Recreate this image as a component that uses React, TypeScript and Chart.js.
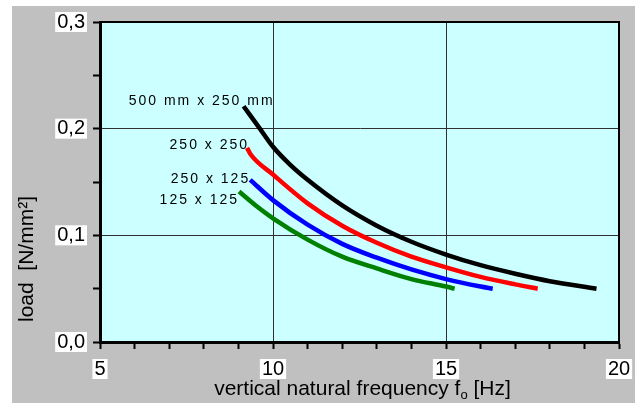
import React, { useEffect, useRef } from 'react';
import { Chart, registerables } from 'chart.js';

Chart.register(...registerables);

// ---- data ----
const seriesNames = ['500 mm x 250 mm', '250 x 250', '250 x 125', '125 x 125'];

const freq500x250 = [9.15, 9.6, 10.0, 10.5, 11.0, 12.0, 13.0, 14.0, 15.0, 16.0, 17.0, 18.0, 19.35];
const load500x250 = [0.221, 0.201, 0.183, 0.166, 0.152, 0.128, 0.109, 0.094, 0.082, 0.072, 0.064, 0.057, 0.05];

const freq250x250 = [9.25, 9.35, 10.0, 11.0, 12.0, 13.0, 14.0, 15.0, 16.0, 17.0, 17.65];
const load250x250 = [0.182, 0.176, 0.157, 0.13, 0.109, 0.093, 0.08, 0.07, 0.061, 0.054, 0.05];

const freq250x125 = [9.34, 10.0, 11.0, 12.0, 13.0, 14.0, 15.0, 16.0, 16.35];
const load250x125 = [0.152, 0.133, 0.11, 0.092, 0.079, 0.068, 0.059, 0.052, 0.05];

const freq125x125 = [9.02, 9.5, 10.0, 11.0, 12.0, 13.0, 14.0, 15.0, 15.25];
const load125x125 = [0.141, 0.128, 0.116, 0.096, 0.08, 0.069, 0.059, 0.052, 0.05];

const xMin = 5;
const xMax = 20;
const xMinorStep = 1;
const xMajorStep = 5;
const yMin = 0;
const yMax = 0.3;
const yMinorStep = 0.05;
const yMajorStep = 0.1;

const xTitleMain = 'vertical natural frequency f';
const xTitleSub = 'o';
const xTitleEnd = ' [Hz]';
const yTitle = 'load  [N/mm²]';

// ---- styles ----
const FONT = "'Liberation Sans', Arial, Helvetica, sans-serif";
const seriesColors = ['#000000', '#ff0000', '#0000ff', '#008000'];
// label offsets relative to the first point of each curve (pixels)
const labelOffsets = [
  { dx: 31, dy: -1 },
  { dx: 2, dy: 1 },
  { dx: 0, dy: 3 },
  { dx: 0, dy: 12 },
];

const isMultiple = (v: number, step: number) => Math.abs(v / step - Math.round(v / step)) < 1e-6;

export default function App() {
  const ref = useRef<HTMLCanvasElement | null>(null);

  useEffect(() => {
    document.body.style.margin = '0';
    const canvas = ref.current;
    if (!canvas) return;

    const pairs = [
      [freq500x250, load500x250],
      [freq250x250, load250x250],
      [freq250x125, load250x125],
      [freq125x125, load125x125],
    ];

    const datasets = pairs.map(([xs, ys], i) => ({
      label: seriesNames[i],
      data: xs.map((x, j) => ({ x, y: ys[j] })),
      showLine: true,
      borderColor: seriesColors[i],
      backgroundColor: seriesColors[i],
      borderWidth: 4.5,
      borderCapStyle: 'butt' as const,
      pointRadius: 0,
      cubicInterpolationMode: 'monotone' as const,
    }));

    const decor = {
      id: 'decor',
      beforeDraw(chart: any) {
        const { ctx, chartArea: a } = chart;
        ctx.save();
        ctx.fillStyle = '#ffffff';
        ctx.fillRect(0, 0, chart.width, chart.height);
        ctx.fillStyle = '#c0c0c0';
        ctx.fillRect(12, 6, 623, chart.height - 6);
        ctx.fillStyle = '#ccffff';
        ctx.fillRect(a.left, a.top, a.right - a.left, a.bottom - a.top);
        ctx.restore();
      },
      beforeDatasetsDraw(chart: any) {
        const { ctx } = chart;
        ctx.save();
        ctx.font = `14px ${FONT}`;
        (ctx as any).letterSpacing = '2px';
        ctx.fillStyle = '#000000';
        ctx.textAlign = 'right';
        ctx.textBaseline = 'alphabetic';
        chart.data.datasets.forEach((ds: any, i: number) => {
          const meta = chart.getDatasetMeta(i);
          const p = meta.data[0];
          ctx.fillText(seriesNames[i], p.x + labelOffsets[i].dx, p.y + labelOffsets[i].dy);
        });
        (ctx as any).letterSpacing = '0px';
        ctx.restore();
      },
      afterDatasetsDraw(chart: any) {
        const { ctx, chartArea: a } = chart;
        ctx.save();
        ctx.strokeStyle = '#000000';
        ctx.lineWidth = 2;
        ctx.beginPath();
        ctx.moveTo(a.left, a.top);
        ctx.lineTo(a.right, a.top);
        ctx.lineTo(a.right, a.bottom);
        ctx.stroke();
        ctx.restore();
      },
      afterDraw(chart: any) {
        const { ctx, chartArea: a } = chart;
        ctx.save();
        (ctx as any).letterSpacing = '0px';
        ctx.fillStyle = '#000000';
        ctx.textBaseline = 'alphabetic';
        ctx.textAlign = 'left';
        // x title with subscript
        const mainFont = `21px ${FONT}`;
        const subFont = `13px ${FONT}`;
        ctx.font = mainFont;
        const w1 = ctx.measureText(xTitleMain).width;
        const w3 = ctx.measureText(xTitleEnd).width;
        ctx.font = subFont;
        const w2 = ctx.measureText(xTitleSub).width;
        const total = w1 + w2 + w3;
        const cx = (a.left + a.right) / 2 + 3;
        let x = cx - total / 2;
        const base = 395;
        ctx.font = mainFont;
        ctx.fillText(xTitleMain, x, base);
        x += w1;
        ctx.font = subFont;
        ctx.fillText(xTitleSub, x, base + 4);
        x += w2;
        ctx.font = mainFont;
        ctx.fillText(xTitleEnd, x, base);
        // y title
        ctx.translate(33, 259);
        ctx.rotate(-Math.PI / 2);
        ctx.textAlign = 'center';
        ctx.font = `21px ${FONT}`;
        ctx.fillText(yTitle, 0, 0);
        ctx.restore();
      },
    };

    const tickFont = { family: FONT, size: 20, lineHeight: 1 };

    const chart = new Chart(canvas, {
      type: 'scatter',
      data: { datasets },
      plugins: [decor],
      options: {
        responsive: false,
        animation: false,
        devicePixelRatio: 1,
        layout: { padding: { top: 22, right: 22, left: 0, bottom: 0 } },
        plugins: {
          legend: { display: false },
          tooltip: { enabled: false },
        },
        scales: {
          x: {
            type: 'linear',
            min: xMin,
            max: xMax,
            afterFit: (s: any) => {
              s.height = 61;
            },
            ticks: {
              stepSize: xMinorStep,
              autoSkip: false,
              maxRotation: 0,
              padding: 10,
              color: '#000000',
              font: tickFont,
              callback: (v: any) => (isMultiple(Number(v), xMajorStep) ? String(v) : ''),
              showLabelBackdrop: true,
              backdropColor: (c: any) => (c.tick && c.tick.label ? '#ffffff' : 'rgba(0,0,0,0)'),
              backdropPadding: { left: 2, right: 2, top: 0, bottom: 0 },
            },
            grid: {
              color: (c: any) => {
                const v = c.tick ? c.tick.value : NaN;
                return isMultiple(v, xMajorStep) && v > xMin && v < xMax ? '#303030' : 'rgba(0,0,0,0)';
              },
              lineWidth: 1,
              drawTicks: true,
              tickLength: 7,
              tickColor: '#000000',
              tickWidth: 2,
            },
            border: { display: true, color: '#000000', width: 3 },
          },
          y: {
            type: 'linear',
            min: yMin,
            max: yMax,
            afterFit: (s: any) => {
              s.width = 100;
            },
            ticks: {
              stepSize: yMinorStep,
              autoSkip: false,
              padding: 8,
              color: '#000000',
              font: tickFont,
              callback: (v: any) =>
                isMultiple(Number(v), yMajorStep) ? Number(v).toFixed(1).replace('.', ',') : '',
              showLabelBackdrop: true,
              backdropColor: (c: any) => (c.tick && c.tick.label ? '#ffffff' : 'rgba(0,0,0,0)'),
              backdropPadding: { left: 2, right: 2, top: 0, bottom: 0 },
            },
            grid: {
              color: (c: any) => {
                const v = c.tick ? c.tick.value : NaN;
                return isMultiple(v, yMajorStep) && v > yMin + 1e-9 && v < yMax - 1e-9 ? '#303030' : 'rgba(0,0,0,0)';
              },
              lineWidth: 1,
              drawTicks: true,
              tickLength: 7,
              tickColor: '#000000',
              tickWidth: 2,
            },
            border: { display: true, color: '#000000', width: 3 },
          },
        },
      },
    } as any);

    return () => {
      chart.destroy();
    };
  }, []);

  return <canvas ref={ref} width={641} height={403} style={{ display: 'block' }} />;
}
